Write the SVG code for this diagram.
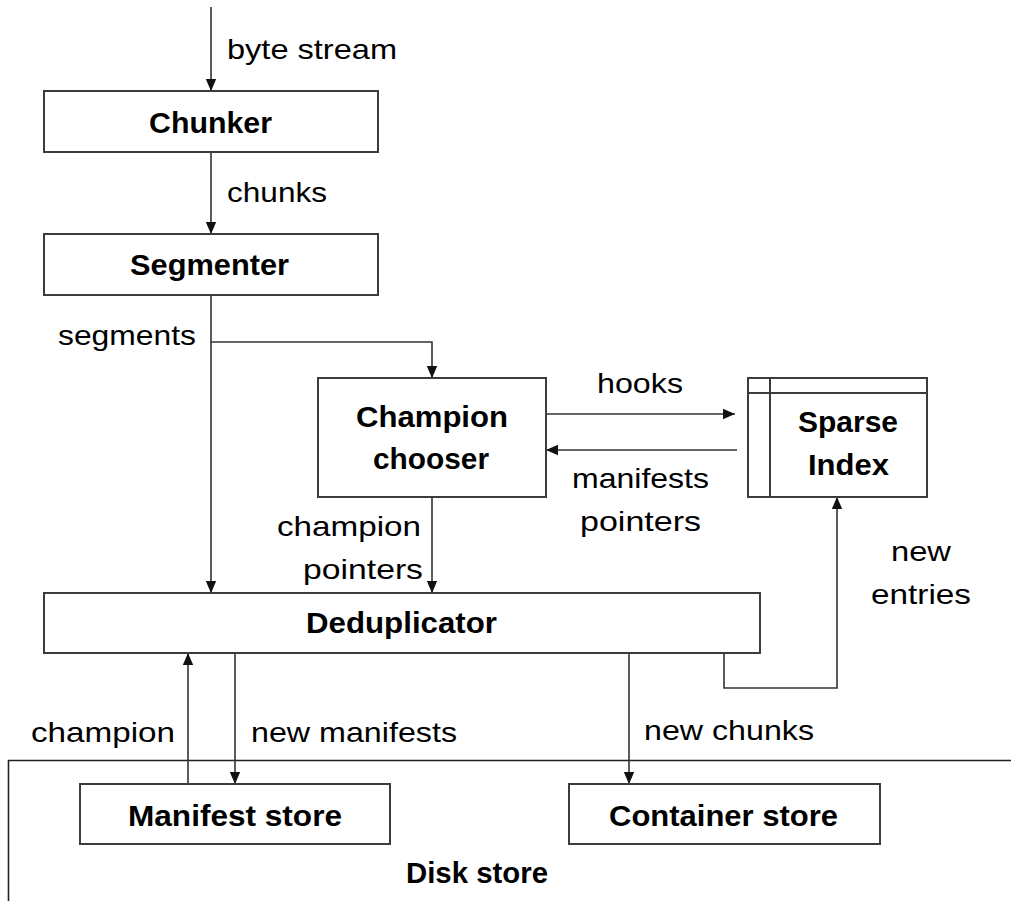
<svg xmlns="http://www.w3.org/2000/svg" width="1011" height="901" viewBox="0 0 1011 901">
  <style>
    .box { fill: #ffffff; stroke: #3c3c3c; stroke-width: 2; }
    .wire { fill: none; stroke: #333333; stroke-width: 1.6; }
    .arrow { marker-end: url(#head); }
    .name { font-family: "Liberation Sans", Arial, sans-serif; font-weight: bold; font-size: 29px; fill: #000000; }
    .lbl { font-family: "Liberation Sans", Arial, sans-serif; font-size: 28px; fill: #000000; }
  </style>
  <defs>
    <marker id="head" markerUnits="userSpaceOnUse" markerWidth="12" markerHeight="12" viewBox="0 0 12 12" refX="12" refY="6" orient="auto">
      <path d="M0,0.8 L12,6 L0,11.2 Z" fill="#111111"/>
    </marker>
  </defs>

  <rect width="1011" height="901" fill="#ffffff"/>

  <!-- disk store enclosure -->
  <g id="disk-store">
    <path d="M8.5 901 V760.5 H1011" fill="none" stroke="#222222" stroke-width="1.6"/>
    <text class="name" x="406" y="883" textLength="142" lengthAdjust="spacingAndGlyphs">Disk store</text>
  </g>

  <!-- connectors -->
  <g id="connectors">
    <path class="wire arrow" d="M211 7 V91"/>
    <path class="wire arrow" d="M211 152 V234"/>
    <path class="wire arrow" d="M211 295 V593"/>
    <path class="wire arrow" d="M211 342 H432 V378"/>
    <path class="wire arrow" d="M546 414 H735"/>
    <path class="wire arrow" d="M737 450 H546"/>
    <path class="wire arrow" d="M432 497 V593"/>
    <path class="wire arrow" d="M724 653 V688 H837 V497"/>
    <path class="wire arrow" d="M188 784 V653"/>
    <path class="wire arrow" d="M235 653 V784"/>
    <path class="wire arrow" d="M629 653 V784"/>

    <text class="lbl" x="227" y="59" textLength="170" lengthAdjust="spacingAndGlyphs">byte stream</text>
    <text class="lbl" x="227" y="202" textLength="100" lengthAdjust="spacingAndGlyphs">chunks</text>
    <text class="lbl" x="58" y="345" textLength="138" lengthAdjust="spacingAndGlyphs">segments</text>
    <text class="lbl" x="597" y="393" textLength="86" lengthAdjust="spacingAndGlyphs">hooks</text>
    <text class="lbl" x="572" y="488" textLength="137" lengthAdjust="spacingAndGlyphs">manifests</text>
    <text class="lbl" x="580" y="531" textLength="121" lengthAdjust="spacingAndGlyphs">pointers</text>
    <text class="lbl" x="277" y="536" textLength="144" lengthAdjust="spacingAndGlyphs">champion</text>
    <text class="lbl" x="303" y="579" textLength="120" lengthAdjust="spacingAndGlyphs">pointers</text>
    <text class="lbl" x="891" y="561" textLength="60" lengthAdjust="spacingAndGlyphs">new</text>
    <text class="lbl" x="871" y="604" textLength="100" lengthAdjust="spacingAndGlyphs">entries</text>
    <text class="lbl" x="31" y="742" textLength="144" lengthAdjust="spacingAndGlyphs">champion</text>
    <text class="lbl" x="251" y="742" textLength="206" lengthAdjust="spacingAndGlyphs">new manifests</text>
    <text class="lbl" x="644" y="740" textLength="170" lengthAdjust="spacingAndGlyphs">new chunks</text>
  </g>

  <!-- nodes -->
  <g id="chunker">
    <rect class="box" x="44" y="91" width="334" height="61"/>
    <text class="name" x="149" y="133" textLength="123" lengthAdjust="spacingAndGlyphs">Chunker</text>
  </g>

  <g id="segmenter">
    <rect class="box" x="44" y="234" width="334" height="61"/>
    <text class="name" x="130" y="275" textLength="159" lengthAdjust="spacingAndGlyphs">Segmenter</text>
  </g>

  <g id="champion-chooser">
    <rect class="box" x="318" y="378" width="228" height="119"/>
    <text class="name" x="356" y="427" textLength="152" lengthAdjust="spacingAndGlyphs">Champion</text>
    <text class="name" x="373" y="469" textLength="116" lengthAdjust="spacingAndGlyphs">chooser</text>
  </g>

  <g id="sparse-index">
    <rect class="box" x="748" y="378" width="179" height="119"/>
    <line x1="748" y1="393" x2="927" y2="393" stroke="#3c3c3c" stroke-width="2"/>
    <line x1="770" y1="378" x2="770" y2="497" stroke="#3c3c3c" stroke-width="2"/>
    <text class="name" x="798" y="432" textLength="100" lengthAdjust="spacingAndGlyphs">Sparse</text>
    <text class="name" x="808" y="475" textLength="81" lengthAdjust="spacingAndGlyphs">Index</text>
  </g>

  <g id="deduplicator">
    <rect class="box" x="44" y="593" width="716" height="60"/>
    <text class="name" x="306" y="633" textLength="191" lengthAdjust="spacingAndGlyphs">Deduplicator</text>
  </g>

  <g id="manifest-store">
    <rect class="box" x="80" y="784" width="310" height="60"/>
    <text class="name" x="128" y="826" textLength="214" lengthAdjust="spacingAndGlyphs">Manifest store</text>
  </g>

  <g id="container-store">
    <rect class="box" x="569" y="784" width="311" height="60"/>
    <text class="name" x="609" y="826" textLength="229" lengthAdjust="spacingAndGlyphs">Container store</text>
  </g>
</svg>
